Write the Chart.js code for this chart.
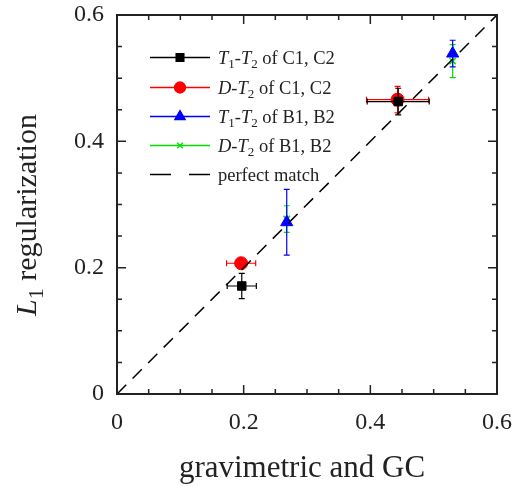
<!DOCTYPE html>
<html>
<head>
<meta charset="utf-8">
<script src="https://cdn.jsdelivr.net/npm/chart.js@4.4.1/dist/chart.umd.min.js"></script>
<style>
  html, body { margin: 0; padding: 0; background: #fff; }
  #wrap { width: 512px; height: 486px; }
</style>
</head>
<body>
<div id="wrap"><canvas id="calChart" width="512" height="486"></canvas></div>
<script>
// reference values (gravimetric and GC) against L1 regularization results
const c12T1T2X = [0.197, 0.444];
const c12T1T2Y = [0.171, 0.463];
const c12T1T2Xerr = [0.023, 0.049];
const c12T1T2Yerr = [0.020, 0.021];

const c12DT2X = [0.196, 0.443];
const c12DT2Y = [0.207, 0.466];
const c12DT2Xerr = [0.023, 0.049];
const c12DT2Yerr = [0.004, 0.021];

const b12T1T2X = [0.268, 0.530];
const b12T1T2Y = [0.272, 0.539];
const b12T1T2Yerr = [0.052, 0.021];

const b12DT2X = [0.268, 0.530];
const b12DT2Y = [0.277, 0.527];
const b12DT2Yerr = [0.021, 0.026];

const matchLine = [0, 0.6];
const tickValues = [0, 0.2, 0.4, 0.6];

const SERIF = '"Liberation Serif", "Times New Roman", serif';
const INK = '#222';

const toPoints = (xs, ys) => xs.map((x, i) => ({ x: x, y: ys[i] }));

// legend rows: text is split in parts so T1 / T2 can get italics and subscripts
const legendRows = [
  { color: '#000', style: 'rect', parts: [['T', 'i'], ['1', 's'], ['-'], ['T', 'i'], ['2', 's'], [' of C1, C2']] },
  { color: '#ff0000', style: 'circle', parts: [['D', 'i'], ['-'], ['T', 'i'], ['2', 's'], [' of C1, C2']] },
  { color: '#0000ff', style: 'triangle', parts: [['T', 'i'], ['1', 's'], ['-'], ['T', 'i'], ['2', 's'], [' of B1, B2']] },
  { color: '#00e000', style: 'crossRot', parts: [['D', 'i'], ['-'], ['T', 'i'], ['2', 's'], [' of B1, B2']] },
  { color: '#000', style: 'dash', parts: [['perfect match']] }
];

const partFont = (kind, size) => kind === 's'
  ? `${Math.round(size * 0.72)}px ${SERIF}`
  : `${kind === 'i' ? 'italic ' : ''}${size}px ${SERIF}`;

const richWidth = (ctx, parts, size) => parts.reduce((w, p) => {
  ctx.font = partFont(p[1], size);
  return w + ctx.measureText(p[0]).width;
}, 0);

const drawRich = (ctx, parts, x, y, size) => {
  ctx.textBaseline = 'alphabetic';
  ctx.textAlign = 'left';
  parts.forEach(p => {
    ctx.font = partFont(p[1], size);
    ctx.fillText(p[0], x, p[1] === 's' ? y + size * 0.22 : y);
    x += ctx.measureText(p[0]).width;
  });
  return x;
};

const errorBars = {
  id: 'errorBars',
  beforeDatasetDraw(chart, args) {
    const ds = chart.data.datasets[args.index];
    if (!ds.yErr) return;
    const ctx = chart.ctx;
    const xs = chart.scales.x, ys = chart.scales.y;
    const cap = 3;
    ctx.save();
    ctx.strokeStyle = ds.borderColor;
    ctx.lineWidth = 1.2;
    ds.data.forEach((pt, i) => {
      const px = xs.getPixelForValue(pt.x);
      const py = ys.getPixelForValue(pt.y);
      const ey = ds.yErr[i], ex = ds.xErr ? ds.xErr[i] : 0;
      ctx.beginPath();
      if (ey) {
        const top = ys.getPixelForValue(pt.y + ey);
        const bot = ys.getPixelForValue(pt.y - ey);
        ctx.moveTo(px, top); ctx.lineTo(px, bot);
        ctx.moveTo(px - cap, top); ctx.lineTo(px + cap, top);
        ctx.moveTo(px - cap, bot); ctx.lineTo(px + cap, bot);
      }
      if (ex) {
        const l = xs.getPixelForValue(pt.x - ex);
        const r = xs.getPixelForValue(pt.x + ex);
        ctx.moveTo(l, py); ctx.lineTo(r, py);
        ctx.moveTo(l, py - cap); ctx.lineTo(l, py + cap);
        ctx.moveTo(r, py - cap); ctx.lineTo(r, py + cap);
      }
      ctx.stroke();
    });
    ctx.restore();
  }
};

// box, inward ticks on all four sides, axis titles and the legend
const frame = {
  id: 'frame',
  afterDraw(chart) {
    const ctx = chart.ctx;
    const a = chart.chartArea;
    const xs = chart.scales.x, ys = chart.scales.y;
    ctx.save();
    ctx.strokeStyle = INK;
    ctx.lineWidth = 1.5;
    for (let k = 0; k <= 12; k++) {
      const v = k * 0.05;
      const len = k % 4 === 0 ? 9 : 5;
      const px = xs.getPixelForValue(v);
      const py = ys.getPixelForValue(v);
      ctx.beginPath();
      ctx.moveTo(px, a.bottom); ctx.lineTo(px, a.bottom - len);
      ctx.moveTo(px, a.top); ctx.lineTo(px, a.top + len);
      ctx.moveTo(a.left, py); ctx.lineTo(a.left + len, py);
      ctx.moveTo(a.right, py); ctx.lineTo(a.right - len, py);
      ctx.stroke();
    }
    ctx.lineWidth = 2;
    ctx.strokeRect(a.left, a.top, a.right - a.left, a.bottom - a.top);

    ctx.fillStyle = INK;
    ctx.font = `31px ${SERIF}`;
    ctx.textAlign = 'center';
    ctx.textBaseline = 'alphabetic';
    ctx.fillText('gravimetric and GC', 302, 477);

    ctx.translate(36, 215);
    ctx.rotate(-Math.PI / 2);
    const yParts = [['L', 'i'], ['1', 's'], [' regularization']];
    drawRich(ctx, yParts, -richWidth(ctx, yParts, 30) / 2, 0, 30);
    ctx.restore();

    // legend
    ctx.save();
    const x0 = 150, x1 = 210, rowY = [57.5, 87.5, 116.5, 145.5, 174.5];
    legendRows.forEach((row, i) => {
      const y = rowY[i];
      ctx.strokeStyle = row.color;
      ctx.fillStyle = row.color;
      ctx.lineWidth = 1.3;
      ctx.beginPath();
      if (row.style === 'dash') {
        ctx.lineWidth = 1.5;
        ctx.moveTo(x0, y); ctx.lineTo(x0 + 21, y);
        ctx.moveTo(x1 - 21, y); ctx.lineTo(x1, y);
        ctx.stroke();
      } else {
        ctx.moveTo(x0, y); ctx.lineTo(x1, y);
        ctx.stroke();
        const r = row.style === 'crossRot' ? 4 : row.style === 'triangle' ? 6 : 5.5;
        Chart.helpers.drawPoint(ctx, { pointStyle: row.style, radius: r, borderWidth: row.style === 'crossRot' ? 1.5 : 1, rotation: 0 }, (x0 + x1) / 2, y);
        if (row.style !== 'crossRot') ctx.fill();
      }
      ctx.fillStyle = INK;
      drawRich(ctx, row.parts, 218, y + 6, 18.5);
    });
    ctx.restore();
  }
};

const markerSet = (label, color, style, radius, pts, xErr, yErr) => ({
  label: label,
  data: pts,
  xErr: xErr,
  yErr: yErr,
  pointStyle: style,
  pointRadius: radius,
  pointBackgroundColor: color,
  pointBorderColor: color,
  pointBorderWidth: style === 'crossRot' ? 1.5 : 1,
  borderColor: color,
  backgroundColor: color,
  showLine: false
});

const tickFont = { family: SERIF, size: 24 };

new Chart(document.getElementById('calChart'), {
  type: 'scatter',
  data: {
    datasets: [
      {
        label: 'perfect match',
        type: 'line',
        data: toPoints(matchLine, matchLine),
        borderColor: '#000',
        borderWidth: 1.5,
        borderDash: [13, 9],
        pointRadius: 0,
        fill: false
      },
      markerSet('T1-T2 of C1, C2', '#000', 'rect', 6, toPoints(c12T1T2X, c12T1T2Y), c12T1T2Xerr, c12T1T2Yerr),
      markerSet('D-T2 of C1, C2', '#ff0000', 'circle', 6.5, toPoints(c12DT2X, c12DT2Y), c12DT2Xerr, c12DT2Yerr),
      markerSet('T1-T2 of B1, B2', '#0000ff', 'triangle', 7, toPoints(b12T1T2X, b12T1T2Y), null, b12T1T2Yerr),
      markerSet('D-T2 of B1, B2', '#00e000', 'crossRot', 4.5, toPoints(b12DT2X, b12DT2Y), null, b12DT2Yerr)
    ]
  },
  options: {
    responsive: false,
    animation: false,
    layout: { padding: { top: 15, right: 15, left: 0, bottom: 0 } },
    plugins: {
      legend: { display: false },
      tooltip: { enabled: false }
    },
    scales: {
      x: {
        type: 'linear',
        min: 0,
        max: 0.6,
        afterFit: s => { s.height = 92; s.paddingLeft = 0; s.paddingRight = 0; },
        afterBuildTicks: s => { s.ticks = tickValues.map(v => ({ value: v })); },
        grid: { display: false, drawTicks: false },
        border: { display: false },
        ticks: {
          padding: 14,
          color: INK,
          font: tickFont,
          callback: v => String(+v.toFixed(1))
        }
      },
      y: {
        type: 'linear',
        min: 0,
        max: 0.6,
        afterFit: s => { s.width = 117; s.paddingTop = 0; s.paddingBottom = 0; },
        afterBuildTicks: s => { s.ticks = tickValues.map(v => ({ value: v })); },
        grid: { display: false, drawTicks: false },
        border: { display: false },
        ticks: {
          padding: 13,
          color: INK,
          font: tickFont,
          callback: v => String(+v.toFixed(1))
        }
      }
    }
  },
  plugins: [errorBars, frame]
});
</script>
</body>
</html>
